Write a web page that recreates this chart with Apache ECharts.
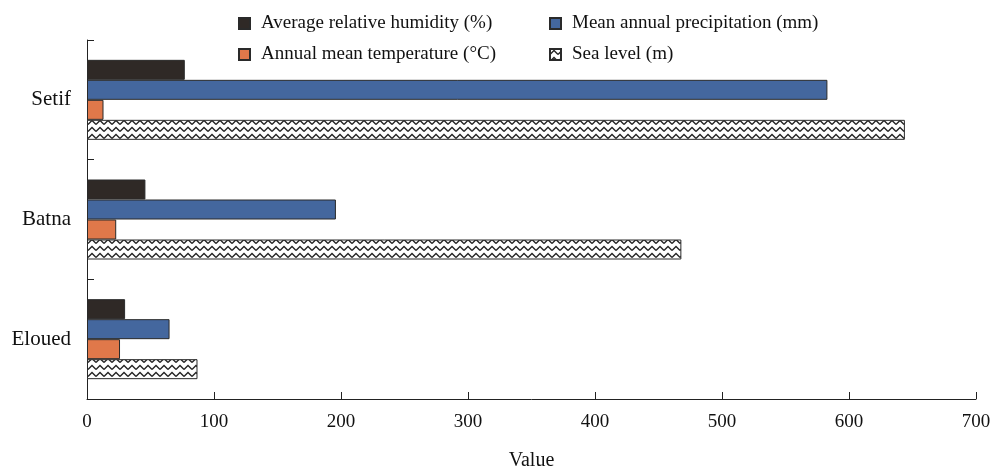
<!DOCTYPE html>
<html>
<head>
<meta charset="utf-8">
<script src="https://cdn.jsdelivr.net/npm/echarts@6/dist/echarts.min.js"></script>
<style>html,body{margin:0;padding:0;background:#fff;}#c{width:992px;height:468px;}</style>
</head>
<body>
<div id="c"></div>
<script>
const categories = ['Setif', 'Batna', 'Eloued'];
const humidity = [77, 46, 30];
const precipitation = [583, 196, 65];
const temperature = [13, 23, 26];
const seaLevel = [644, 468, 87];
const xTicks = [0, 100, 200, 300, 400, 500, 600, 700];

function zigzag() {
  const c = document.createElement('canvas');
  c.width = 8; c.height = 7;
  const g = c.getContext('2d');
  g.fillStyle = '#fff'; g.fillRect(0, 0, 8, 7);
  g.strokeStyle = '#222'; g.lineWidth = 1.3;
  g.beginPath();
  g.moveTo(0, 5.5); g.lineTo(4, 1.5); g.lineTo(8, 5.5);
  g.stroke();
  return c;
}
const pat = { image: zigzag(), repeat: 'repeat' };
const font = 'Liberation Serif';
const border = { borderColor: '#2a2a2a', borderWidth: 1 };
const legendText = { fontFamily: font, fontSize: 19, color: '#111', padding: [0, 0, 0, 6] };

const chart = echarts.init(document.getElementById('c'));
chart.setOption({
  animation: false,
  textStyle: { fontFamily: font },
  grid: { left: 87, right: 16, top: 40, bottom: 69, containLabel: false, outerBoundsMode: 'none' },
  legend: [
    { orient: 'vertical', left: 233, top: 9, icon: 'rect', itemWidth: 11, itemHeight: 11, itemGap: 12,
      textStyle: legendText,
      data: ['Average relative humidity (%)', 'Annual mean temperature (°C)'] },
    { orient: 'vertical', left: 544, top: 9, icon: 'rect', itemWidth: 11, itemHeight: 11, itemGap: 12,
      textStyle: legendText,
      data: ['Mean annual precipitation (mm)', 'Sea level (m)'] }
  ],
  xAxis: {
    type: 'value', min: 0, max: 700, interval: 100,
    name: 'Value', nameLocation: 'middle', nameGap: 52,
    nameTextStyle: { fontFamily: font, fontSize: 20, color: '#111' },
    axisLine: { show: true, lineStyle: { color: '#222', width: 1 } },
    axisTick: { show: true, inside: true, length: 7, lineStyle: { color: '#222' } },
    axisLabel: { fontFamily: font, fontSize: 19, color: '#111', margin: 14 },
    splitLine: { show: false }
  },
  yAxis: {
    type: 'category', data: categories, inverse: true,
    axisLine: { show: true, lineStyle: { color: '#222', width: 1 } },
    axisTick: { show: true, inside: true, length: 7, lineStyle: { color: '#222' } },
    axisLabel: { fontFamily: font, fontSize: 21, color: '#111', margin: 16 }
  },
  series: [
    { name: 'Average relative humidity (%)', type: 'bar', data: humidity, barWidth: 20, barGap: '0%', barCategoryGap: '33%',
      itemStyle: Object.assign({ color: '#2f2926' }, border) },
    { name: 'Mean annual precipitation (mm)', type: 'bar', data: precipitation, barWidth: 20, barGap: '0%',
      itemStyle: Object.assign({ color: '#44679e' }, border) },
    { name: 'Annual mean temperature (°C)', type: 'bar', data: temperature, barWidth: 20, barGap: '0%',
      itemStyle: Object.assign({ color: '#e0784a' }, border) },
    { name: 'Sea level (m)', type: 'bar', data: seaLevel, barWidth: 20, barGap: '0%',
      itemStyle: Object.assign({ color: pat }, border) }
  ]
});
</script>
</body>
</html>
